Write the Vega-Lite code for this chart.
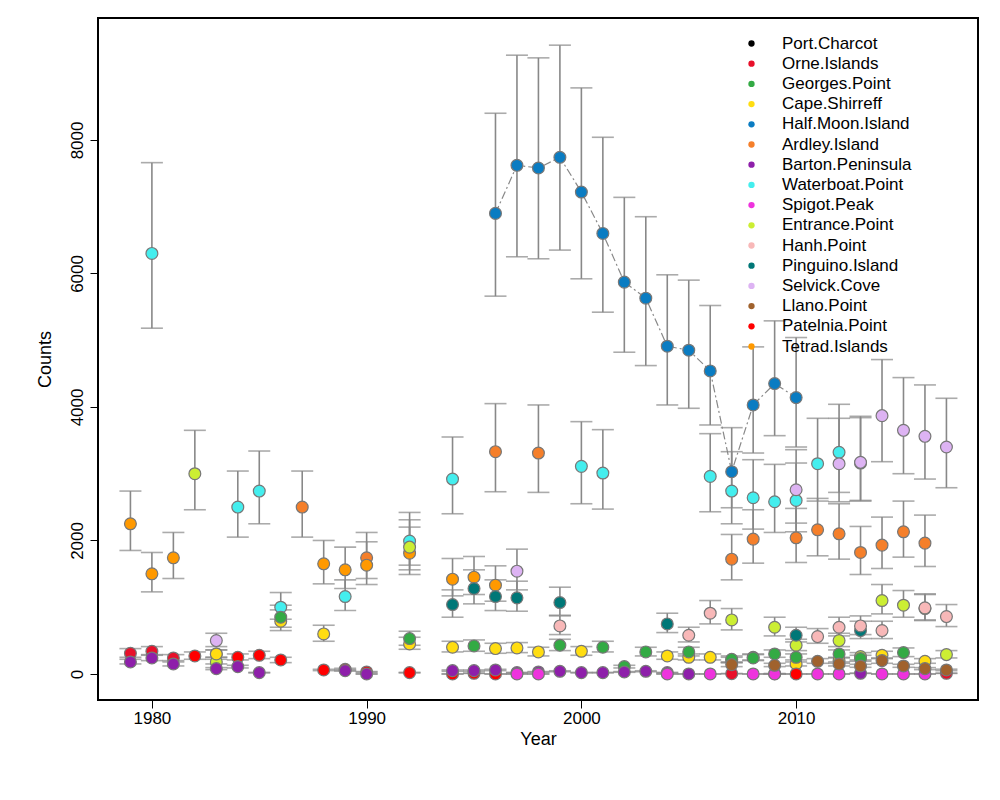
{
"$schema":"https://vega.github.io/schema/vega-lite/v6.json",
"width":880,"height":682,
"padding":{"left":98,"top":18,"right":22,"bottom":100},
"autosize":{"type":"none"},
"config":{"view":{"stroke":"black","strokeWidth":2},"font":"Liberation Sans","axis":{"grid":false,"domain":false,"tickColor":"black","tickSize":8,"labelFontSize":17,"titleFontSize":18,"labelColor":"black","titleColor":"black","titleFontWeight":"normal"}},
"data":{"values":[
{"s":"Half.Moon.Island","x":1996,"v":6900,"lo":5660,"hi":8400},
{"s":"Half.Moon.Island","x":1997,"v":7620,"lo":6250,"hi":9270},
{"s":"Half.Moon.Island","x":1998,"v":7580,"lo":6220,"hi":9230},
{"s":"Half.Moon.Island","x":1999,"v":7740,"lo":6350,"hi":9420},
{"s":"Half.Moon.Island","x":2000,"v":7220,"lo":5920,"hi":8780},
{"s":"Half.Moon.Island","x":2001,"v":6600,"lo":5420,"hi":8040},
{"s":"Half.Moon.Island","x":2002,"v":5870,"lo":4820,"hi":7140},
{"s":"Half.Moon.Island","x":2003,"v":5630,"lo":4620,"hi":6850},
{"s":"Half.Moon.Island","x":2004,"v":4910,"lo":4030,"hi":5980},
{"s":"Half.Moon.Island","x":2005,"v":4850,"lo":3980,"hi":5900},
{"s":"Half.Moon.Island","x":2006,"v":4540,"lo":3730,"hi":5520},
{"s":"Half.Moon.Island","x":2007,"v":3030,"lo":2490,"hi":3690},
{"s":"Half.Moon.Island","x":2008,"v":4030,"lo":3310,"hi":4900},
{"s":"Half.Moon.Island","x":2009,"v":4350,"lo":3570,"hi":5290},
{"s":"Half.Moon.Island","x":2010,"v":4140,"lo":3400,"hi":5040},
{"s":"Waterboat.Point","x":1980,"v":6300,"lo":5180,"hi":7660},
{"s":"Waterboat.Point","x":1984,"v":2500,"lo":2050,"hi":3040},
{"s":"Waterboat.Point","x":1985,"v":2740,"lo":2250,"hi":3340},
{"s":"Waterboat.Point","x":1986,"v":1000,"lo":820,"hi":1220},
{"s":"Waterboat.Point","x":1989,"v":1160,"lo":950,"hi":1410},
{"s":"Waterboat.Point","x":1992,"v":1990,"lo":1630,"hi":2420},
{"s":"Waterboat.Point","x":1994,"v":2920,"lo":2400,"hi":3550},
{"s":"Waterboat.Point","x":2000,"v":3110,"lo":2550,"hi":3780},
{"s":"Waterboat.Point","x":2001,"v":3010,"lo":2470,"hi":3660},
{"s":"Waterboat.Point","x":2006,"v":2960,"lo":2430,"hi":3600},
{"s":"Waterboat.Point","x":2007,"v":2740,"lo":2250,"hi":3330},
{"s":"Waterboat.Point","x":2008,"v":2640,"lo":2170,"hi":3210},
{"s":"Waterboat.Point","x":2009,"v":2580,"lo":2120,"hi":3140},
{"s":"Waterboat.Point","x":2010,"v":2600,"lo":2130,"hi":3160},
{"s":"Waterboat.Point","x":2011,"v":3150,"lo":2590,"hi":3830},
{"s":"Waterboat.Point","x":2012,"v":3320,"lo":2720,"hi":4040},
{"s":"Waterboat.Point","x":2013,"v":3160,"lo":2590,"hi":3840},
{"s":"Selvick.Cove","x":1983,"v":500,"lo":410,"hi":610},
{"s":"Selvick.Cove","x":1997,"v":1540,"lo":1260,"hi":1870},
{"s":"Selvick.Cove","x":2010,"v":2760,"lo":2260,"hi":3360},
{"s":"Selvick.Cove","x":2012,"v":3150,"lo":2580,"hi":3830},
{"s":"Selvick.Cove","x":2013,"v":3170,"lo":2600,"hi":3860},
{"s":"Selvick.Cove","x":2014,"v":3870,"lo":3180,"hi":4710},
{"s":"Selvick.Cove","x":2015,"v":3650,"lo":3000,"hi":4440},
{"s":"Selvick.Cove","x":2016,"v":3560,"lo":2920,"hi":4330},
{"s":"Selvick.Cove","x":2017,"v":3400,"lo":2790,"hi":4130},
{"s":"Ardley.Island","x":1987,"v":2500,"lo":2050,"hi":3040},
{"s":"Ardley.Island","x":1990,"v":1740,"lo":1430,"hi":2120},
{"s":"Ardley.Island","x":1996,"v":3330,"lo":2730,"hi":4050},
{"s":"Ardley.Island","x":1998,"v":3310,"lo":2720,"hi":4030},
{"s":"Ardley.Island","x":2007,"v":1720,"lo":1410,"hi":2090},
{"s":"Ardley.Island","x":2008,"v":2020,"lo":1660,"hi":2460},
{"s":"Ardley.Island","x":2010,"v":2040,"lo":1670,"hi":2480},
{"s":"Ardley.Island","x":2011,"v":2160,"lo":1770,"hi":2630},
{"s":"Ardley.Island","x":2012,"v":2100,"lo":1720,"hi":2550},
{"s":"Ardley.Island","x":2013,"v":1820,"lo":1490,"hi":2210},
{"s":"Ardley.Island","x":2014,"v":1930,"lo":1580,"hi":2350},
{"s":"Ardley.Island","x":2015,"v":2130,"lo":1750,"hi":2590},
{"s":"Ardley.Island","x":2016,"v":1960,"lo":1610,"hi":2380},
{"s":"Tetrad.Islands","x":1979,"v":2250,"lo":1850,"hi":2740},
{"s":"Tetrad.Islands","x":1980,"v":1500,"lo":1230,"hi":1820},
{"s":"Tetrad.Islands","x":1981,"v":1740,"lo":1430,"hi":2120},
{"s":"Tetrad.Islands","x":1983,"v":300,"lo":250,"hi":360},
{"s":"Tetrad.Islands","x":1988,"v":1650,"lo":1350,"hi":2000},
{"s":"Tetrad.Islands","x":1989,"v":1560,"lo":1280,"hi":1900},
{"s":"Tetrad.Islands","x":1990,"v":1630,"lo":1340,"hi":1980},
{"s":"Tetrad.Islands","x":1992,"v":1810,"lo":1490,"hi":2200},
{"s":"Tetrad.Islands","x":1994,"v":1420,"lo":1170,"hi":1730},
{"s":"Tetrad.Islands","x":1995,"v":1450,"lo":1190,"hi":1760},
{"s":"Tetrad.Islands","x":1996,"v":1330,"lo":1090,"hi":1620},
{"s":"Entrance.Point","x":1982,"v":3000,"lo":2460,"hi":3650},
{"s":"Entrance.Point","x":1983,"v":180,"lo":150,"hi":220},
{"s":"Entrance.Point","x":1992,"v":1900,"lo":1560,"hi":2310},
{"s":"Entrance.Point","x":2007,"v":810,"lo":660,"hi":980},
{"s":"Entrance.Point","x":2009,"v":700,"lo":570,"hi":850},
{"s":"Entrance.Point","x":2010,"v":430,"lo":350,"hi":520},
{"s":"Entrance.Point","x":2012,"v":500,"lo":410,"hi":610},
{"s":"Entrance.Point","x":2013,"v":260,"lo":210,"hi":320},
{"s":"Entrance.Point","x":2014,"v":1100,"lo":900,"hi":1340},
{"s":"Entrance.Point","x":2015,"v":1030,"lo":850,"hi":1250},
{"s":"Entrance.Point","x":2016,"v":980,"lo":800,"hi":1190},
{"s":"Entrance.Point","x":2017,"v":290,"lo":240,"hi":350},
{"s":"Pinguino.Island","x":1994,"v":1040,"lo":850,"hi":1260},
{"s":"Pinguino.Island","x":1995,"v":1280,"lo":1050,"hi":1560},
{"s":"Pinguino.Island","x":1996,"v":1160,"lo":950,"hi":1410},
{"s":"Pinguino.Island","x":1997,"v":1140,"lo":940,"hi":1390},
{"s":"Pinguino.Island","x":1999,"v":1070,"lo":880,"hi":1300},
{"s":"Pinguino.Island","x":2004,"v":750,"lo":620,"hi":910},
{"s":"Pinguino.Island","x":2010,"v":580,"lo":480,"hi":700},
{"s":"Pinguino.Island","x":2013,"v":650,"lo":530,"hi":790},
{"s":"Hanh.Point","x":1999,"v":720,"lo":590,"hi":870},
{"s":"Hanh.Point","x":2005,"v":580,"lo":480,"hi":700},
{"s":"Hanh.Point","x":2006,"v":910,"lo":750,"hi":1100},
{"s":"Hanh.Point","x":2011,"v":560,"lo":460,"hi":680},
{"s":"Hanh.Point","x":2012,"v":700,"lo":570,"hi":850},
{"s":"Hanh.Point","x":2013,"v":720,"lo":590,"hi":870},
{"s":"Hanh.Point","x":2014,"v":650,"lo":530,"hi":790},
{"s":"Hanh.Point","x":2016,"v":990,"lo":810,"hi":1200},
{"s":"Hanh.Point","x":2017,"v":860,"lo":710,"hi":1040},
{"s":"Cape.Shirreff","x":1983,"v":300,"lo":250,"hi":360},
{"s":"Cape.Shirreff","x":1986,"v":790,"lo":650,"hi":960},
{"s":"Cape.Shirreff","x":1988,"v":600,"lo":490,"hi":730},
{"s":"Cape.Shirreff","x":1992,"v":450,"lo":370,"hi":550},
{"s":"Cape.Shirreff","x":1994,"v":400,"lo":330,"hi":490},
{"s":"Cape.Shirreff","x":1996,"v":380,"lo":310,"hi":460},
{"s":"Cape.Shirreff","x":1997,"v":390,"lo":320,"hi":470},
{"s":"Cape.Shirreff","x":1998,"v":330,"lo":270,"hi":400},
{"s":"Cape.Shirreff","x":2000,"v":340,"lo":280,"hi":410},
{"s":"Cape.Shirreff","x":2004,"v":270,"lo":220,"hi":330},
{"s":"Cape.Shirreff","x":2005,"v":250,"lo":210,"hi":300},
{"s":"Cape.Shirreff","x":2006,"v":250,"lo":210,"hi":300},
{"s":"Cape.Shirreff","x":2007,"v":210,"lo":170,"hi":250},
{"s":"Cape.Shirreff","x":2008,"v":250,"lo":210,"hi":300},
{"s":"Cape.Shirreff","x":2010,"v":150,"lo":120,"hi":180},
{"s":"Cape.Shirreff","x":2012,"v":200,"lo":160,"hi":240},
{"s":"Cape.Shirreff","x":2014,"v":280,"lo":230,"hi":340},
{"s":"Cape.Shirreff","x":2016,"v":190,"lo":160,"hi":230},
{"s":"Georges.Point","x":1986,"v":850,"lo":700,"hi":1030},
{"s":"Georges.Point","x":1992,"v":530,"lo":430,"hi":640},
{"s":"Georges.Point","x":1995,"v":420,"lo":340,"hi":510},
{"s":"Georges.Point","x":1999,"v":430,"lo":350,"hi":520},
{"s":"Georges.Point","x":2001,"v":400,"lo":330,"hi":490},
{"s":"Georges.Point","x":2002,"v":110,"lo":90,"hi":130},
{"s":"Georges.Point","x":2003,"v":330,"lo":270,"hi":400},
{"s":"Georges.Point","x":2005,"v":330,"lo":270,"hi":400},
{"s":"Georges.Point","x":2007,"v":220,"lo":180,"hi":270},
{"s":"Georges.Point","x":2008,"v":240,"lo":200,"hi":290},
{"s":"Georges.Point","x":2009,"v":300,"lo":250,"hi":360},
{"s":"Georges.Point","x":2010,"v":250,"lo":210,"hi":300},
{"s":"Georges.Point","x":2012,"v":300,"lo":250,"hi":360},
{"s":"Georges.Point","x":2013,"v":230,"lo":190,"hi":280},
{"s":"Georges.Point","x":2015,"v":320,"lo":260,"hi":390},
{"s":"Orne.Islands","x":1979,"v":310,"lo":250,"hi":380},
{"s":"Orne.Islands","x":1980,"v":340,"lo":280,"hi":410},
{"s":"Orne.Islands","x":1981,"v":240,"lo":200,"hi":290},
{"s":"Orne.Islands","x":2007,"v":5,"lo":4,"hi":6},
{"s":"Orne.Islands","x":2009,"v":5,"lo":4,"hi":6},
{"s":"Orne.Islands","x":2017,"v":10,"lo":8,"hi":12},
{"s":"Patelnia.Point","x":1982,"v":270,"lo":220,"hi":330},
{"s":"Patelnia.Point","x":1984,"v":250,"lo":210,"hi":300},
{"s":"Patelnia.Point","x":1985,"v":280,"lo":230,"hi":340},
{"s":"Patelnia.Point","x":1986,"v":210,"lo":170,"hi":250},
{"s":"Patelnia.Point","x":1988,"v":60,"lo":50,"hi":70},
{"s":"Patelnia.Point","x":1989,"v":70,"lo":60,"hi":85},
{"s":"Patelnia.Point","x":1990,"v":30,"lo":25,"hi":36},
{"s":"Patelnia.Point","x":1992,"v":20,"lo":16,"hi":24},
{"s":"Patelnia.Point","x":1994,"v":0,"lo":0,"hi":0},
{"s":"Patelnia.Point","x":1995,"v":10,"lo":8,"hi":12},
{"s":"Patelnia.Point","x":1996,"v":0,"lo":0,"hi":0},
{"s":"Patelnia.Point","x":2010,"v":0,"lo":0,"hi":0},
{"s":"Barton.Peninsula","x":1979,"v":180,"lo":150,"hi":220},
{"s":"Barton.Peninsula","x":1980,"v":240,"lo":200,"hi":290},
{"s":"Barton.Peninsula","x":1981,"v":150,"lo":120,"hi":180},
{"s":"Barton.Peninsula","x":1983,"v":80,"lo":65,"hi":95},
{"s":"Barton.Peninsula","x":1984,"v":110,"lo":90,"hi":130},
{"s":"Barton.Peninsula","x":1985,"v":20,"lo":16,"hi":24},
{"s":"Barton.Peninsula","x":1989,"v":50,"lo":40,"hi":60},
{"s":"Barton.Peninsula","x":1990,"v":0,"lo":0,"hi":0},
{"s":"Barton.Peninsula","x":1994,"v":50,"lo":40,"hi":60},
{"s":"Barton.Peninsula","x":1995,"v":50,"lo":40,"hi":60},
{"s":"Barton.Peninsula","x":1996,"v":60,"lo":50,"hi":70},
{"s":"Barton.Peninsula","x":1997,"v":20,"lo":16,"hi":24},
{"s":"Barton.Peninsula","x":1998,"v":30,"lo":25,"hi":36},
{"s":"Barton.Peninsula","x":1999,"v":40,"lo":33,"hi":48},
{"s":"Barton.Peninsula","x":2000,"v":20,"lo":16,"hi":24},
{"s":"Barton.Peninsula","x":2001,"v":20,"lo":16,"hi":24},
{"s":"Barton.Peninsula","x":2002,"v":30,"lo":25,"hi":36},
{"s":"Barton.Peninsula","x":2003,"v":40,"lo":33,"hi":48},
{"s":"Barton.Peninsula","x":2004,"v":20,"lo":16,"hi":24},
{"s":"Barton.Peninsula","x":2005,"v":0,"lo":0,"hi":0},
{"s":"Barton.Peninsula","x":2013,"v":10,"lo":8,"hi":12},
{"s":"Spigot.Peak","x":1997,"v":0,"lo":0,"hi":0},
{"s":"Spigot.Peak","x":1998,"v":0,"lo":0,"hi":0},
{"s":"Spigot.Peak","x":2004,"v":0,"lo":0,"hi":0},
{"s":"Spigot.Peak","x":2006,"v":0,"lo":0,"hi":0},
{"s":"Spigot.Peak","x":2008,"v":0,"lo":0,"hi":0},
{"s":"Spigot.Peak","x":2009,"v":0,"lo":0,"hi":0},
{"s":"Spigot.Peak","x":2011,"v":0,"lo":0,"hi":0},
{"s":"Spigot.Peak","x":2012,"v":0,"lo":0,"hi":0},
{"s":"Spigot.Peak","x":2014,"v":0,"lo":0,"hi":0},
{"s":"Spigot.Peak","x":2015,"v":0,"lo":0,"hi":0},
{"s":"Spigot.Peak","x":2016,"v":0,"lo":0,"hi":0},
{"s":"Llano.Point","x":2007,"v":140,"lo":110,"hi":170},
{"s":"Llano.Point","x":2009,"v":130,"lo":110,"hi":160},
{"s":"Llano.Point","x":2011,"v":190,"lo":160,"hi":230},
{"s":"Llano.Point","x":2012,"v":150,"lo":120,"hi":180},
{"s":"Llano.Point","x":2013,"v":120,"lo":100,"hi":145},
{"s":"Llano.Point","x":2014,"v":200,"lo":160,"hi":240},
{"s":"Llano.Point","x":2015,"v":120,"lo":100,"hi":145},
{"s":"Llano.Point","x":2016,"v":80,"lo":65,"hi":95},
{"s":"Llano.Point","x":2017,"v":60,"lo":50,"hi":72}
]},
"encoding":{
"x":{"field":"x","type":"quantitative","title":"Year","scale":{"domain":[1977.49,2018.47],"nice":false,"zero":false},"axis":{"values":[1980,1990,2000,2010],"format":"d","titlePadding":4}},
"y":{"field":"v","type":"quantitative","title":"Counts","scale":{"domain":[-390,9827],"nice":false,"zero":false},"axis":{"values":[0,2000,4000,6000,8000],"format":"d","labelAngle":-90,"labelAlign":"center","labelBaseline":"bottom","labelPadding":4,"titlePadding":14}}
},
"layer":[
{"transform":[{"filter":"datum.s == 'Half.Moon.Island'"}],"mark":{"type":"line","color":"#888888","strokeWidth":1.2,"strokeDash":[8,3,2,3]},"encoding":{"detail":{"field":"s"}}},
{"mark":{"type":"rule","color":"#888888","strokeWidth":1.6},"encoding":{"y":{"field":"lo","type":"quantitative"},"y2":{"field":"hi"}}},
{"mark":{"type":"tick","color":"#888888","thickness":1.6,"size":22,"orient":"horizontal"},"encoding":{"y":{"field":"lo","type":"quantitative"}}},
{"mark":{"type":"tick","color":"#888888","thickness":1.6,"size":22,"orient":"horizontal"},"encoding":{"y":{"field":"hi","type":"quantitative"}}},
{"mark":{"type":"point","filled":true,"size":140,"stroke":"#777777","strokeWidth":1.2,"opacity":1},
"encoding":{"fill":{"field":"s","type":"nominal","scale":{
"domain":["Port.Charcot","Orne.Islands","Georges.Point","Cape.Shirreff","Half.Moon.Island","Ardley.Island","Barton.Peninsula","Waterboat.Point","Spigot.Peak","Entrance.Point","Hanh.Point","Pinguino.Island","Selvick.Cove","Llano.Point","Patelnia.Point","Tetrad.Islands"],
"range":["#000000","#E8102A","#33AA44","#FFDD11","#0A7CC2","#F57F2A","#8E1FAA","#44EEEE","#EE33DD","#CCEE33","#F8B8B8","#007777","#DDB3F3","#A0622D","#FF0000","#FF9900"]},
"legend":{"orient":"none","legendX":655,"legendY":17,"title":null,"labelFontSize":17,"labelColor":"black","symbolSize":40,"symbolStrokeWidth":0,"rowPadding":2.2,"labelOffset":22,"symbolOffset":-10}}}}
]
}
